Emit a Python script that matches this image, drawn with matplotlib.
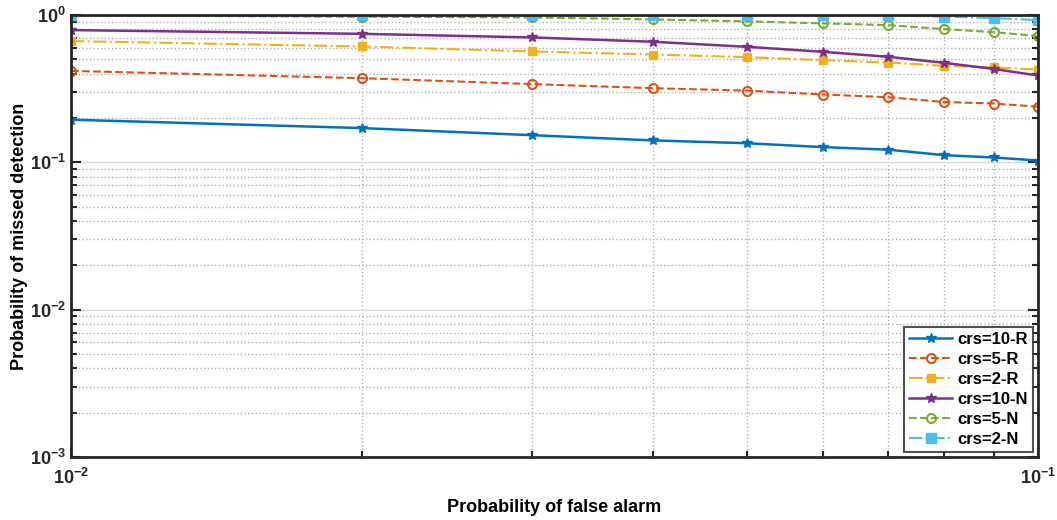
import matplotlib.pyplot as plt
from matplotlib.ticker import NullFormatter
import numpy as np

plt.rcParams['font.family'] = ['Liberation Sans', 'DejaVu Sans']
plt.rcParams['font.weight'] = 'bold'
plt.rcParams['mathtext.default'] = 'bf'

# probability of false alarm
pfa = [0.01, 0.02, 0.03, 0.04, 0.05, 0.06, 0.07, 0.08, 0.09, 0.1]

# probability of missed detection
crs10_R = [0.195, 0.171, 0.153, 0.141, 0.135, 0.127, 0.122, 0.112, 0.108, 0.103]
crs5_R = [0.418, 0.373, 0.340, 0.319, 0.307, 0.289, 0.277, 0.257, 0.251, 0.239]
crs2_R = [0.666, 0.612, 0.566, 0.540, 0.518, 0.494, 0.476, 0.452, 0.441, 0.427]
crs10_N = [0.791, 0.746, 0.705, 0.659, 0.609, 0.563, 0.521, 0.474, 0.431, 0.389]
crs5_N = [0.995, 0.974, 0.964, 0.934, 0.906, 0.878, 0.855, 0.803, 0.766, 0.720]
crs2_N = [1.0, 1.0, 1.0, 1.0, 1.0, 0.995, 0.995, 0.974, 0.954, 0.925]

fig = plt.figure(figsize=(10.57, 5.2), dpi=100)
ax = fig.add_axes([0.0672, 0.121, 0.9148, 0.850])

ax.plot(pfa, crs10_R, '-', color='#0072BD', marker='*', ms=7, lw=1.8, label='crs=10-R')
ax.plot(pfa, crs5_R, '--', color='#D95319', marker='o', mfc='none', ms=6.5, mew=1.5, lw=1.5, label='crs=5-R')
ax.plot(pfa, crs2_R, '-.', color='#EDB120', marker='s', mfc='#EDB120', ms=5.5, lw=1.5, label='crs=2-R')
ax.plot(pfa, crs10_N, '-', color='#7E2F8E', marker='*', ms=7, lw=1.8, label='crs=10-N')
ax.plot(pfa, crs5_N, '--', color='#77AC30', marker='o', mfc='none', ms=6.5, mew=1.5, lw=1.5, label='crs=5-N')
ax.plot(pfa, crs2_N, '-.', color='#4DBEEE', marker='s', ms=6.5, lw=1.5, label='crs=2-N')

ax.set_xscale('log')
ax.set_yscale('log')
ax.set_xlim(0.01, 0.1)
ax.set_ylim(1e-3, 1)
ax.xaxis.set_minor_formatter(NullFormatter())
ax.yaxis.set_minor_formatter(NullFormatter())

ax.grid(True, which='major', color='#d9d9d9', ls='-', lw=1.0)
ax.grid(True, which='minor', color='#b0b0b0', ls=':', lw=1.0)
ax.set_axisbelow(True)

for s in ax.spines.values():
    s.set_linewidth(2)
    s.set_color('#262626')
ax.tick_params(which='both', direction='in', top=True, right=True, width=1.5, colors='#262626', labelsize=13)
ax.tick_params(which='major', length=7)
ax.tick_params(which='minor', length=4)
ax.tick_params(axis='x', pad=8)

ax.set_xlabel('Probability of false alarm', fontsize=13, fontweight='bold', labelpad=8)
ax.set_ylabel('Probability of missed detection', fontsize=13, fontweight='bold')
ax.yaxis.set_label_coords(-0.045, 0.5)

leg = ax.legend(loc='lower right', fontsize=12, frameon=True, fancybox=False,
                edgecolor='#262626', borderaxespad=0.3, handlelength=2.6,
                labelspacing=0.3, borderpad=0.3, handletextpad=0.3)
leg.get_frame().set_linewidth(1.5)
for t in leg.get_texts():
    t.set_fontweight('bold')

fig.savefig('out.png', dpi=100)
